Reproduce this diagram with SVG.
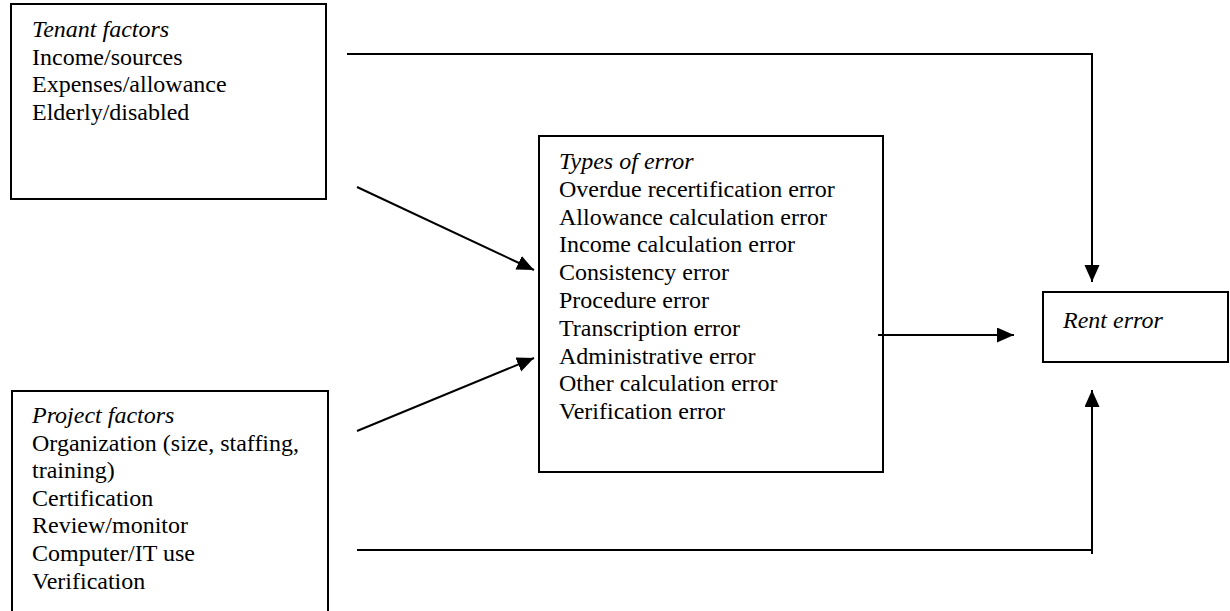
<svg xmlns="http://www.w3.org/2000/svg" width="1230" height="611" viewBox="0 0 1230 611">
<style>
.box{fill:#fff;stroke:#000;stroke-width:2}
.t{font-family:"Liberation Serif","Times New Roman",serif;font-size:24px;fill:#000}
.i{font-style:italic}
.c{fill:none;stroke:#000;stroke-width:2}
</style>
<defs>
<marker id="ah" markerUnits="userSpaceOnUse" markerWidth="19" markerHeight="17" refX="17" refY="7.5" orient="auto">
<path d="M0,0 L17,7.5 L0,15 z" fill="#000"/>
</marker>
</defs>
<rect width="1230" height="611" fill="#fff"/>
<g id="tenant">
<rect class="box" x="11" y="4" width="315" height="195"/>
<text class="t" x="32" y="37"><tspan class="i">Tenant factors</tspan><tspan x="32" y="64.6">Income/sources</tspan><tspan x="32" y="92.2">Expenses/allowance</tspan><tspan x="32" y="119.8">Elderly/disabled</tspan></text>
</g>
<g id="project">
<rect class="box" x="12" y="391" width="316" height="230"/>
<text class="t" x="32" y="423"><tspan class="i">Project factors</tspan><tspan x="32" y="450.6">Organization (size, staffing,</tspan><tspan x="32" y="478.2">training)</tspan><tspan x="32" y="505.8">Certification</tspan><tspan x="32" y="533.4">Review/monitor</tspan><tspan x="32" y="561">Computer/IT use</tspan><tspan x="32" y="588.6">Verification</tspan></text>
</g>
<g id="types">
<rect class="box" x="539" y="136" width="344" height="336"/>
<text class="t" x="559" y="169"><tspan class="i">Types of error</tspan><tspan x="559" y="196.8">Overdue recertification error</tspan><tspan x="559" y="224.6">Allowance calculation error</tspan><tspan x="559" y="252.4">Income calculation error</tspan><tspan x="559" y="280.2">Consistency error</tspan><tspan x="559" y="308">Procedure error</tspan><tspan x="559" y="335.8">Transcription error</tspan><tspan x="559" y="363.6">Administrative error</tspan><tspan x="559" y="391.4">Other calculation error</tspan><tspan x="559" y="419.2">Verification error</tspan></text>
</g>
<g id="rent">
<rect class="box" x="1043" y="292" width="185" height="70"/>
<text class="t i" x="1063" y="328">Rent error</text>
</g>
<g id="connectors">
<polyline class="c" points="347,54 1092,54 1092,282" marker-end="url(#ah)"/>
<line class="c" x1="357" y1="187" x2="534" y2="270" marker-end="url(#ah)"/>
<line class="c" x1="357" y1="431" x2="534" y2="358" marker-end="url(#ah)"/>
<line class="c" x1="878" y1="335" x2="1014" y2="335" marker-end="url(#ah)"/>
<polyline class="c" points="357,550 1092,550 1092,390" marker-end="url(#ah)"/>
<line class="c" x1="1092" y1="550" x2="1092" y2="554"/>
</g>
</svg>
